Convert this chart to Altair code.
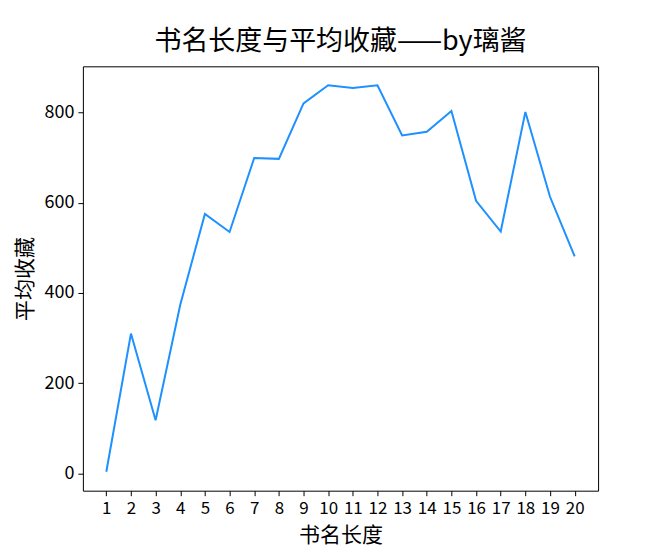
import pandas as pd
import altair as alt

# average favourites by title length
title_length = list(range(1, 21))
avg_fav = [4, 310, 118, 374, 575, 535, 699, 697, 820, 860,
           854, 860, 749, 757, 803, 604, 536, 801, 613, 481]

df = pd.DataFrame({'length': title_length, 'fav': avg_fav})

FONT = 'Noto Sans CJK SC'

line = alt.Chart(df).mark_line(color='#1E90FF', strokeWidth=2).encode(
    x=alt.X(
        'length:Q',
        scale=alt.Scale(domain=[0.05, 20.95], nice=False, zero=False),
        axis=alt.Axis(
            title='书名长度',
            values=title_length,
            format='d',
            grid=False,
            labelFlush=False,
            labelOverlap=False,
            labelFontSize=17,
            tickSize=5,
            labelPadding=5,
            titlePadding=8,
        )
    ),
    y=alt.Y(
        'fav:Q',
        scale=alt.Scale(domain=[-38, 902], nice=False, zero=False),
        axis=alt.Axis(
            title='平均收藏',
            values=[0, 200, 400, 600, 800],
            grid=False,
            tickSize=5,
            labelPadding=4,
            titlePadding=8,
        )
    )
).properties(
    width=516,
    height=425,
    title=alt.Title('书名长度与平均收藏——by璃酱', fontSize=27, font=FONT,
                    fontWeight='normal', offset=10, anchor='middle'),
    autosize=alt.AutoSizeParams(type='none'),
    padding={'left': 75, 'top': 58, 'right': 60, 'bottom': 58},
).configure_view(
    stroke='black', strokeWidth=1
).configure_axis(
    domain=False,
    tickColor='black',
    labelColor='black',
    titleColor='black',
    labelFont=FONT,
    titleFont=FONT,
    labelFontSize=18,
    titleFontSize=21,
    titleFontWeight='normal',
)

chart = line
chart.save("out.html", embed_options={"renderer": "svg", "actions": False})
